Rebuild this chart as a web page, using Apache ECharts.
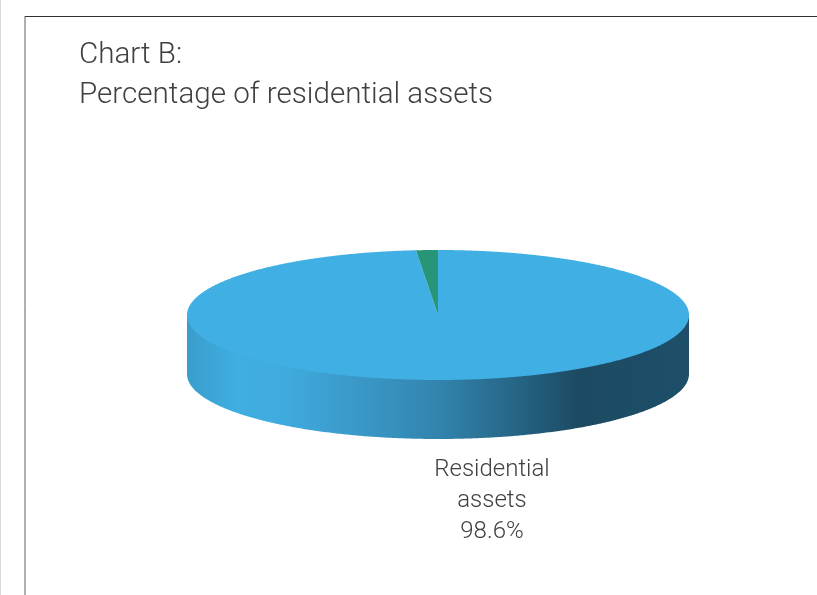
<!DOCTYPE html>
<html>
<head>
<meta charset="utf-8">
<style>html,body{margin:0;padding:0;background:#fff}#c{width:817px;height:595px}</style>
<script src="https://cdn.jsdelivr.net/npm/echarts@6/dist/echarts.min.js"></script>
</head>
<body>
<div id="c"></div>
<script>
const categories = ["Residential assets", "Other assets"];
const values = [98.6, 1.4];
const sliceColors = ["#40AFE3", "#269578"];
const labelLines = ["Residential", "assets", "98.6%"];
const titleText = "Chart B:\nPercentage of residential assets";

const cx = 438, cy = 315, rx = 251, ry = 65, depth = 59;
const total = values.reduce((a, b) => a + b, 0);
const fontFamily = "Roboto, 'Open Sans', sans-serif";

function pt(a, dy) {
  return [cx + rx * Math.sin(a), cy + (dy || 0) - ry * Math.cos(a)];
}
function sector(a0, a1) {
  const pts = [[cx, cy]];
  const n = Math.max(2, Math.ceil((a1 - a0) / 0.005));
  for (let i = 0; i <= n; i++) pts.push(pt(a0 + (a1 - a0) * i / n));
  return pts;
}
function wall() {
  const pts = [];
  for (let i = 0; i <= 400; i++) pts.push(pt(Math.PI / 2 + Math.PI * i / 400, -2));
  for (let i = 400; i >= 0; i--) pts.push(pt(Math.PI / 2 + Math.PI * i / 400, depth));
  return pts;
}
const wallGradient = {
  type: "linear", x: 0, y: 0, x2: 1, y2: 0,
  colorStops: [
    { offset: 0, color: "#3A9DCB" },
    { offset: 0.1, color: "#40AEE2" },
    { offset: 0.2, color: "#3FAADD" },
    { offset: 0.35, color: "#3A97C6" },
    { offset: 0.5, color: "#3284AE" },
    { offset: 0.62, color: "#296C8F" },
    { offset: 0.78, color: "#1C4A62" },
    { offset: 1, color: "#1E4F69" }
  ]
};

const chart = echarts.init(document.getElementById("c"));
chart.setOption({
  animation: false,
  title: {
    text: titleText, left: 74, top: 31,
    textStyle: { fontFamily, fontWeight: 300, fontSize: 29.6, lineHeight: 40, color: "#404040" }
  },
  graphic: [
    { type: "rect", shape: { x: 0, y: 0, width: 1, height: 595 }, style: { fill: "#D9D9D9" } },
    { type: "line", shape: { x1: 25, y1: 16.5, x2: 817, y2: 16.5 }, style: { stroke: "#303030", lineWidth: 1 } },
    { type: "line", shape: { x1: 25, y1: 16, x2: 25, y2: 595 }, style: { stroke: "#606060", lineWidth: 1 } }
  ],
  series: [{
    type: "custom",
    coordinateSystem: "none",
    data: values.map((v, i) => ({ name: categories[i], value: v })),
    renderItem(params, api) {
      const i = params.dataIndex;
      const before = values.slice(0, i).reduce((a, b) => a + b, 0);
      const a0 = before / total * 2 * Math.PI;
      const a1 = (before + values[i]) / total * 2 * Math.PI;
      const children = [];
      if (i === 0) {
        children.push({ type: "polygon", shape: { points: wall() }, style: { fill: wallGradient } });
      }
      children.push({ type: "polygon", shape: { points: sector(a0, a1) }, style: { fill: sliceColors[i] } });
      if (i === 0) {
        children.push({
          type: "text",
          x: 492, y: 501,
          style: {
            text: labelLines.join("\n"),
            fontFamily, fontWeight: 300, fontSize: 24, lineHeight: 31,
            fill: "#404040", align: "center", verticalAlign: "middle"
          }
        });
      }
      return { type: "group", children };
    }
  }]
});
</script>
</body>
</html>
